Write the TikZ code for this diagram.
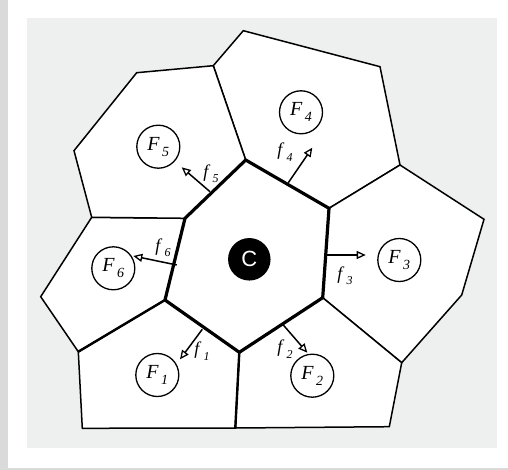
\documentclass[tikz,border=0pt]{standalone}
\usepackage{fontspec}
\setmainfont{Liberation Serif}
\newfontfamily\cfont{Liberation Sans}
\usetikzlibrary{arrows.meta}
\definecolor{panelgray}{HTML}{EEF0EF}
\definecolor{stripgray}{HTML}{DADADA}
\newcommand\flab[3]{\textit{#1}\hspace{0.12em}\raisebox{-0.3em}{\fontsize{#3}{#3}\selectfont\textit{#2}}}
\tikzset{
  thinline/.style={line width=1.5pt, line join=miter},
  midline/.style={line width=2.4pt},
  hexline/.style={line width=3.2pt, line join=miter},
  cell/.style={thinline, fill=white},
  fcircle/.style={circle, draw, line width=1.3pt, fill=white, minimum size=43pt, inner sep=0pt, font=\fontsize{20}{20}\selectfont},
  fvec/.style={line width=1.5pt, -{Triangle[open, length=9pt, width=8pt, line width=1.3pt]}},
  flabel/.style={font=\fontsize{18}{18}\selectfont, inner sep=0pt}
}
\begin{document}
\begin{tikzpicture}[x=1pt, y=-1pt]
\useasboundingbox (0,0) rectangle (508,470);
\fill[white] (0,0) rectangle (508,470);
\fill[stripgray] (0,0) rectangle (8,470);
\fill[stripgray] (0,468) rectangle (508,470);
\fill[panelgray] (27,18) rectangle (497,448);
% hexagon vertices
\coordinate (A) at (245.7,160);
\coordinate (B) at (329,208.3);
\coordinate (Cc) at (322.7,297.7);
\coordinate (D) at (239.3,352.3);
\coordinate (E) at (165,300);
\coordinate (G) at (185,218.3);
% outer vertices
\coordinate (P1) at (213.3,65.7);
\coordinate (P2) at (243.3,30.7);
\coordinate (P3) at (380,66.7);
\coordinate (P4) at (400,165);
\coordinate (P5) at (484,219.3);
\coordinate (P6) at (461.7,295);
\coordinate (P7) at (401.7,362.7);
\coordinate (P8) at (389.3,426.7);
\coordinate (P9) at (235.3,428);
\coordinate (P10) at (82.3,428.3);
\coordinate (P11) at (78.3,351.7);
\coordinate (P12) at (40.7,296.7);
\coordinate (P13) at (91.7,217.3);
\coordinate (P14) at (74,150.7);
\coordinate (P15) at (136.7,72.7);
% cells
\draw[cell] (A) -- (P1) -- (P2) -- (P3) -- (P4) -- (B) -- cycle;
\draw[cell] (B) -- (P4) -- (P5) -- (P6) -- (P7) -- (Cc) -- cycle;
\draw[cell] (Cc) -- (P7) -- (P8) -- (P9) -- (D) -- cycle;
\draw[cell] (D) -- (P9) -- (P10) -- (P11) -- (E) -- cycle;
\draw[cell] (E) -- (P11) -- (P12) -- (P13) -- (G) -- cycle;
\draw[cell] (G) -- (P13) -- (P14) -- (P15) -- (P1) -- (A) -- cycle;
\fill[white] (A) -- (B) -- (Cc) -- (D) -- (E) -- (G) -- cycle;
% medium edges
\draw[midline] (P11) -- (E);
\draw[midline] (D) -- (P9);
% hexagon
\draw[hexline] (A) -- (B) -- (Cc) -- (D) -- (E) -- (G) -- cycle;
% circles
\node[circle, fill=black, minimum size=42.5pt, inner sep=0pt, text=white, font=\cfont\fontsize{22}{22}\selectfont] (C) at (249.3,259.3) {C};
\node[fcircle] (F1) at (157.3,375) {\flab{F}{1}{14}};
\node[fcircle] (F2) at (312.3,375.7) {\flab{F}{2}{14}};
\node[fcircle] (F3) at (399.3,260) {\flab{F}{3}{14}};
\node[fcircle] (F4) at (301,112.3) {\flab{F}{4}{14}};
\node[fcircle] (F5) at (158.3,146.7) {\flab{F}{5}{14}};
\node[fcircle] (F6) at (113.3,268.3) {\flab{F}{6}{14}};
% force vectors
\coordinate (s1) at (202.3,329.3); \coordinate (e1) at (180,359.3);
\coordinate (s2) at (283.3,325);   \coordinate (e2) at (307.3,352.7);
\coordinate (s3) at (325,255);     \coordinate (e3) at (365.7,255);
\coordinate (s4) at (288.3,182.7); \coordinate (e4) at (312.3,147.7);
\coordinate (s5) at (210,191.7);   \coordinate (e5) at (181.7,167.3);
\coordinate (s6) at (176.7,265);   \coordinate (e6) at (133.3,256);
\draw[fvec] (s1) -- (e1);
\draw[fvec] (s2) -- (e2);
\draw[fvec] (s3) -- (e3);
\draw[fvec] (s4) -- (e4);
\draw[fvec] (s5) -- (e5);
\draw[fvec] (s6) -- (e6);
\node[flabel] (l1) at (202,351) {\flab{f}{1}{12}};
\node[flabel] (l2) at (285,349) {\flab{f}{2}{12}};
\node[flabel] (l3) at (345,276) {\flab{f}{3}{12}};
\node[flabel] (l4) at (285,152) {\flab{f}{4}{12}};
\node[flabel] (l5) at (211,174) {\flab{f}{5}{12}};
\node[flabel] (l6) at (163,248) {\flab{f}{6}{12}};
\end{tikzpicture}
\end{document}
